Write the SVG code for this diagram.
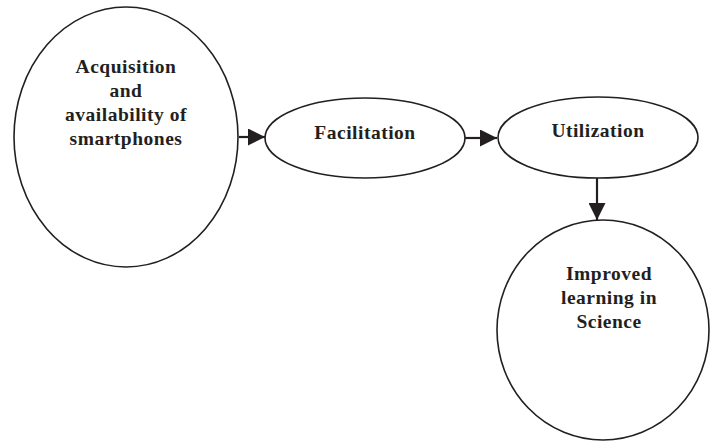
<svg xmlns="http://www.w3.org/2000/svg" width="712" height="441" viewBox="0 0 712 441">
<defs>
<marker id="ah" viewBox="0 0 10 10" refX="10" refY="5" markerWidth="17" markerHeight="17" markerUnits="userSpaceOnUse" orient="auto">
<path d="M0,0 L10,5 L0,10 Z" fill="#231f20"/>
</marker>
<style>
.n{fill:#fff;stroke:#231f20;stroke-width:1.6}
.t{font-family:"Liberation Serif",serif;font-weight:bold;font-size:19.5px;letter-spacing:0.5px;fill:#231f20;text-anchor:middle}
.c{stroke:#231f20;stroke-width:2.2;fill:none}
</style>
</defs>
<rect width="712" height="441" fill="#fff"/>
<g id="connectors">
<line class="c" x1="239" y1="137" x2="265" y2="137" marker-end="url(#ah)"/>
<line class="c" x1="465" y1="138" x2="497" y2="138" marker-end="url(#ah)"/>
<line class="c" x1="597" y1="178" x2="597" y2="220" marker-end="url(#ah)"/>
</g>
<g id="acquisition">
<ellipse class="n" cx="126" cy="137" rx="112" ry="130"/>
<text class="t" x="126" y="73">Acquisition</text>
<text class="t" x="126" y="97">and</text>
<text class="t" x="126" y="121">availability of</text>
<text class="t" x="126" y="145">smartphones</text>
</g>
<g id="facilitation">
<ellipse class="n" cx="365" cy="138" rx="100" ry="40"/>
<text class="t" x="365" y="139">Facilitation</text>
</g>
<g id="utilization">
<ellipse class="n" cx="598" cy="137.5" rx="100" ry="40.5"/>
<text class="t" x="598" y="137">Utilization</text>
</g>
<g id="improved">
<ellipse class="n" cx="603" cy="330" rx="106" ry="110"/>
<text class="t" x="609" y="280">Improved</text>
<text class="t" x="609" y="304">learning in</text>
<text class="t" x="609" y="328">Science</text>
</g>
</svg>
